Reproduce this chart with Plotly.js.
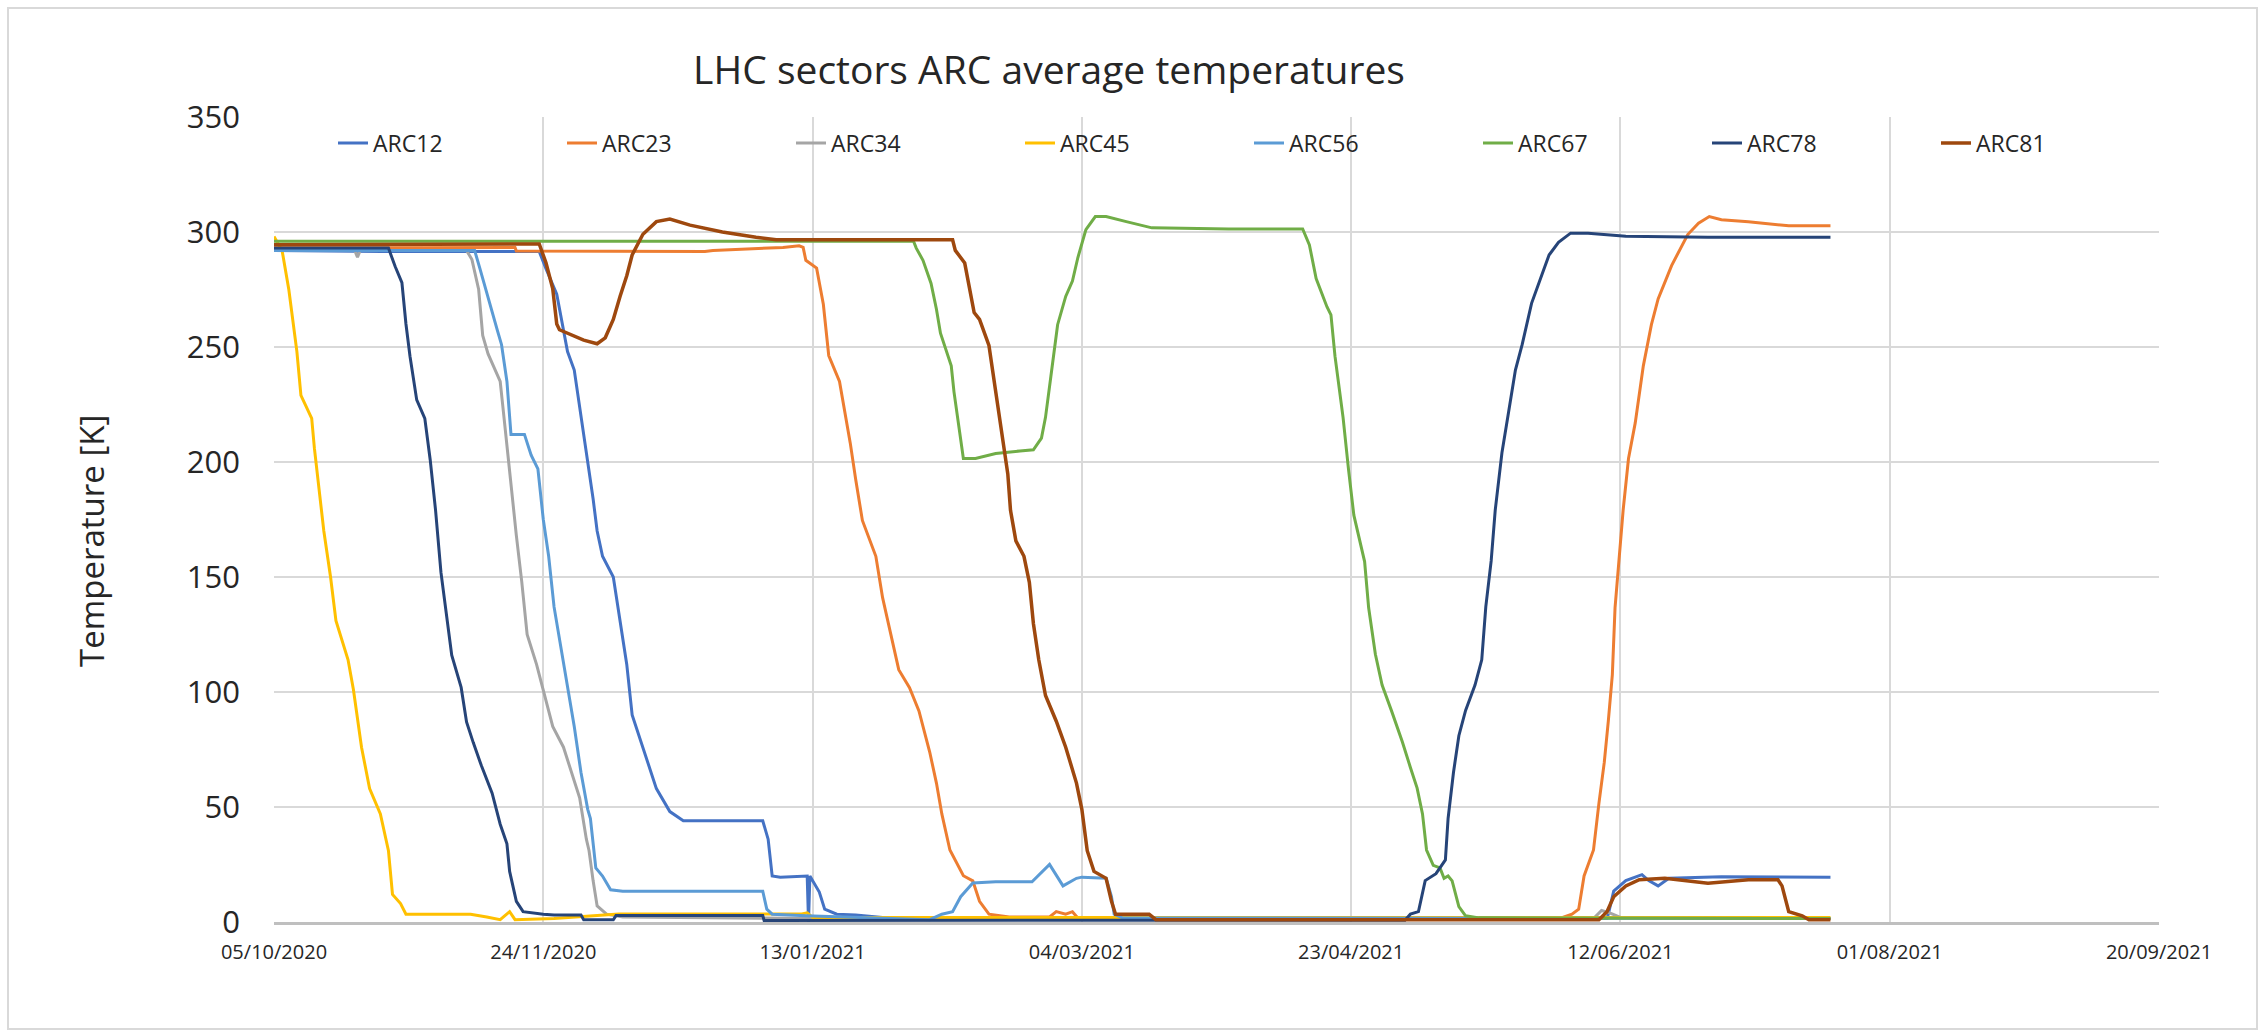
<!DOCTYPE html>
<html>
<head>
<meta charset="utf-8">
<script src="https://cdn.plot.ly/plotly-3.0.1.min.js"></script>
<style>
html,body{margin:0;padding:0;background:#fff;}
#chart{width:2267px;height:1036px;}
</style>
</head>
<body>
<div id="chart"></div>
<script>
// ---- Data ----
const seriesNames = ['ARC12','ARC23','ARC34','ARC45','ARC56','ARC67','ARC78','ARC81'];
const seriesColors = ['#4472C4','#ED7D31','#A5A5A5','#FFC000','#5B9BD5','#70AD47','#264478','#9E480E'];

const arc12_x = ['2020-10-05','2020-10-25','2020-11-23 06:00','2020-11-24 12:00','2020-11-26 12:00','2020-11-27 18:00','2020-11-28 12:00','2020-11-29 18:00','2020-11-30 18:00','2020-12-01 18:00','2020-12-02 12:00','2020-12-03 06:00','2020-12-04','2020-12-05','2020-12-07','2020-12-08 06:00','2020-12-09 12:00','2020-12-10 12:00','2020-12-12 12:00','2020-12-15','2020-12-17 12:00','2020-12-20','2020-12-27','2021-01-03 18:00','2021-01-04 18:00','2021-01-05 12:00','2021-01-07','2021-01-11 06:00','2021-01-12','2021-01-12 06:00','2021-01-12 12:00','2021-01-14 06:00','2021-01-15 06:00','2021-01-17 12:00','2021-01-21','2021-01-28','2021-03-04','2021-04-23','2021-06-09 12:00','2021-06-09 18:00','2021-06-10 18:00','2021-06-13','2021-06-16','2021-06-17 06:00','2021-06-19','2021-06-21','2021-06-30 18:00','2021-07-21'];
const arc12_y = [292,291.5,291.5,284,273,257,248,240,224,210,198,184,170,159,150,130,112,90,76,58,48,44,44,44,36,20,19.5,20,20,0,20,13,5.6,3.4,3,1.5,1.5,1.5,1.5,3.4,13.4,18,20.6,18,15.7,19,19.7,19.5];

const arc23_x = ['2020-10-05','2020-10-15 18:00','2020-11-18 18:00','2020-11-19','2020-12-02 12:00','2020-12-24','2020-12-25 12:00','2021-01-07 12:00','2021-01-10 12:00','2021-01-11 06:00','2021-01-11 18:00','2021-01-13','2021-01-13 18:00','2021-01-15','2021-01-16','2021-01-18','2021-01-19','2021-01-20','2021-01-21','2021-01-22 06:00','2021-01-24 18:00','2021-01-26','2021-01-27 12:00','2021-01-29','2021-01-31','2021-02-01 18:00','2021-02-03 18:00','2021-02-05','2021-02-06','2021-02-07 12:00','2021-02-10','2021-02-11 18:00','2021-02-13','2021-02-14 18:00','2021-02-18 12:00','2021-02-26','2021-02-27 06:00','2021-03-01','2021-03-02 06:00','2021-03-03 12:00','2021-04-23','2021-06-01','2021-06-03','2021-06-04 06:00','2021-06-05 06:00','2021-06-07','2021-06-08','2021-06-09','2021-06-09 18:00','2021-06-10 12:00','2021-06-11','2021-06-11 18:00','2021-06-12 12:00','2021-06-13 12:00','2021-06-14 18:00','2021-06-16 06:00','2021-06-17 18:00','2021-06-19','2021-06-21 12:00','2021-06-24 12:00','2021-06-26 12:00','2021-06-28 12:00','2021-06-30 18:00','2021-07-05 18:00','2021-07-13 06:00','2021-07-21'];
const arc23_y = [293,293,293.3,291.7,291.5,291.5,292,293.3,294,293.3,287.7,285.4,284.3,268.6,246.3,235,221.6,208.2,192.5,174.6,159,141,125.4,109.7,101.9,91.8,73.9,60.4,47,31.3,20.1,17.9,9,3.4,2.2,2.2,4.5,3.4,4.5,1.1,1.2,1.8,3.4,5.6,20,31.3,51.5,69.4,87.3,107.5,136.6,159,179,201.5,217,241.8,259.7,270.9,285.4,298.9,303.8,306.7,305.3,304.5,302.7,302.7];

const arc34_x = ['2020-10-05','2020-10-20','2020-10-20 12:00','2020-10-21','2020-11-09 18:00','2020-11-10 18:00','2020-11-12','2020-11-12 18:00','2020-11-13 18:00','2020-11-16','2020-11-16 12:00','2020-11-17 12:00','2020-11-18','2020-11-19','2020-11-20','2020-11-21','2020-11-22 18:00','2020-11-24','2020-11-25 18:00','2020-11-27 18:00','2020-11-29 06:00','2020-11-30 18:00','2020-12-02','2020-12-02 12:00','2020-12-03 06:00','2020-12-04','2020-12-05 18:00','2020-12-08 18:00','2021-01-13','2021-06-07','2021-06-08 12:00','2021-06-10','2021-06-12','2021-07-21'];
const arc34_y = [292,292,289,292,292,288,275,255,247,235,224,201,188,168,148,125,112,101,85,76,65,54,36,31,18,7,3.4,2.2,1.5,1.5,5,4,2,1.5];

const arc45_x = ['2020-10-05','2020-10-06 12:00','2020-10-07 18:00','2020-10-09 06:00','2020-10-10','2020-10-12','2020-10-12 12:00','2020-10-14 06:00','2020-10-15 12:00','2020-10-16 12:00','2020-10-18 18:00','2020-10-19 18:00','2020-10-21 06:00','2020-10-22 18:00','2020-10-24 18:00','2020-10-26 06:00','2020-10-27','2020-10-28 12:00','2020-10-29 12:00','2020-11-10 12:00','2020-11-13 12:00','2020-11-16','2020-11-17 18:00','2020-11-18 18:00','2020-11-26','2020-12-08','2021-01-11','2021-01-12','2021-01-13','2021-07-21'];
const arc45_y = [298,292,275,248,229,219,206,170,150,131,114,101,76,58,47,31,12,8,3.4,3.4,2.2,1,4.5,1,1.5,3.5,3.5,4,2,2];

const arc56_x = ['2020-10-05','2020-11-11 06:00','2020-11-12 06:00','2020-11-14','2020-11-15 12:00','2020-11-16 06:00','2020-11-17 06:00','2020-11-18','2020-11-20 12:00','2020-11-21 18:00','2020-11-23','2020-11-24','2020-11-25','2020-11-26','2020-11-27 12:00','2020-11-28 12:00','2020-11-29 18:00','2020-12-01','2020-12-02 06:00','2020-12-02 18:00','2020-12-03 06:00','2020-12-03 18:00','2020-12-05','2020-12-06 12:00','2020-12-08 18:00','2021-01-03 18:00','2021-01-04 12:00','2021-01-05 12:00','2021-01-11 18:00','2021-01-23','2021-02-03 18:00','2021-02-06','2021-02-08','2021-02-09 12:00','2021-02-11 18:00','2021-02-16','2021-02-22 18:00','2021-02-26','2021-02-28 12:00','2021-03-03','2021-03-04','2021-03-08 12:00','2021-03-09 12:00','2021-03-10','2021-03-11 12:00','2021-07-21'];
const arc56_y = [292,292,284,269,257,251,235,212,212,203,197,175,159,137,116,101,85,65,49,45,34,23.5,20,14,13.4,13.4,5.6,3.4,2.7,2,1,3.4,4.5,11,17,17.5,17.5,25,15.7,19,19.5,19,11,3.4,1.8,1.5];

const arc67_x = ['2020-10-05','2021-01-31 18:00','2021-02-01 06:00','2021-02-02 12:00','2021-02-04','2021-02-05','2021-02-05 18:00','2021-02-07 18:00','2021-02-08 06:00','2021-02-09 06:00','2021-02-10','2021-02-12 06:00','2021-02-16','2021-02-20 12:00','2021-02-23','2021-02-24 12:00','2021-02-25 06:00','2021-02-26 06:00','2021-02-27 12:00','2021-03-01','2021-03-02 06:00','2021-03-03 06:00','2021-03-04 18:00','2021-03-06 12:00','2021-03-08 12:00','2021-03-12 06:00','2021-03-17','2021-03-31 06:00','2021-04-14','2021-04-15 06:00','2021-04-16 12:00','2021-04-18 12:00','2021-04-19 06:00','2021-04-20','2021-04-21 12:00','2021-04-22 12:00','2021-04-23 12:00','2021-04-25 12:00','2021-04-26 06:00','2021-04-27 12:00','2021-04-28 18:00','2021-04-30 12:00','2021-05-02 12:00','2021-05-04','2021-05-05 06:00','2021-05-06 06:00','2021-05-07','2021-05-08 06:00','2021-05-09 12:00','2021-05-10 06:00','2021-05-11','2021-05-11 18:00','2021-05-13','2021-05-14 06:00','2021-05-16 18:00','2021-07-21'];
const arc67_y = [296,296,293,287.7,277.6,266.4,256,241.8,230.6,215,201.5,201.5,203.7,204.8,205.3,210.4,219.4,237.3,259.7,272,278.7,288.8,301,306.7,306.7,304.5,301.8,301.3,301.3,294.4,279.8,267.5,264,246,219.4,197,176.9,156.7,136.6,116.4,103,91.8,78.4,67.2,58.2,47,31.3,24.6,23.5,19,20,17.9,6.7,2.7,1.8,1.5];

const arc78_x = ['2020-10-05','2020-10-26 06:00','2020-10-27 12:00','2020-10-28 18:00','2020-10-29 12:00','2020-10-30 06:00','2020-10-31 12:00','2020-11-02','2020-11-03','2020-11-04','2020-11-05','2020-11-06','2020-11-07','2020-11-08 18:00','2020-11-09 18:00','2020-11-11','2020-11-12 12:00','2020-11-14 12:00','2020-11-16','2020-11-17 06:00','2020-11-17 18:00','2020-11-19','2020-11-20 06:00','2020-11-24','2020-11-26','2020-12-01','2020-12-01 12:00','2020-12-07','2020-12-07 12:00','2021-01-03 18:00','2021-01-04','2021-05-03','2021-05-04','2021-05-05 12:00','2021-05-06 18:00','2021-05-08 18:00','2021-05-10 12:00','2021-05-11','2021-05-12','2021-05-13','2021-05-14 06:00','2021-05-16','2021-05-17 06:00','2021-05-18','2021-05-19','2021-05-19 18:00','2021-05-21','2021-05-22 06:00','2021-05-23 12:00','2021-05-24 18:00','2021-05-26 12:00','2021-05-28 12:00','2021-05-29 18:00','2021-05-31 12:00','2021-06-02 18:00','2021-06-06','2021-06-13','2021-06-28 06:00','2021-07-21'];
const arc78_y = [293,293,285,278,260,246,227,219,201,179,152,134,116,102,87,78,68,56,42.5,34,22,9,4.5,3.4,3,3,1,1,2.8,2.8,0.7,0.8,3.4,4.5,18,21,27,45,65,81,92,103,114,137,157,179,204,222,240,251,269,282,290,295.5,299.5,299.5,298.2,297.7,297.7];

const arc81_x = ['2020-10-05','2020-11-23','2020-11-23 06:00','2020-11-24 12:00','2020-11-25 18:00','2020-11-26 12:00','2020-11-27','2020-12-01 12:00','2020-12-02 12:00','2020-12-04','2020-12-05 12:00','2020-12-07','2020-12-08 06:00','2020-12-09 12:00','2020-12-10 12:00','2020-12-12 12:00','2020-12-15','2020-12-17 12:00','2020-12-21 06:00','2020-12-27 06:00','2021-01-02 12:00','2021-01-06 06:00','2021-02-08','2021-02-08 12:00','2021-02-10 06:00','2021-02-11','2021-02-12','2021-02-13','2021-02-14 18:00','2021-02-16','2021-02-17 06:00','2021-02-18 06:00','2021-02-18 18:00','2021-02-19 18:00','2021-02-21 06:00','2021-02-22 06:00','2021-02-23','2021-02-24','2021-02-25 06:00','2021-02-27 06:00','2021-03-01','2021-03-03','2021-03-04','2021-03-05','2021-03-06 06:00','2021-03-07 18:00','2021-03-08 12:00','2021-03-09 12:00','2021-03-10 06:00','2021-03-16 12:00','2021-03-17 18:00','2021-06-08','2021-06-09 12:00','2021-06-10 18:00','2021-06-13','2021-06-15 12:00','2021-06-20 06:00','2021-06-28 06:00','2021-07-05 18:00','2021-07-11 06:00','2021-07-12','2021-07-13 06:00','2021-07-15 18:00','2021-07-17','2021-07-21'];
const arc81_y = [294.5,295,294.8,286.6,275.4,260,257.5,253,252.5,251.4,254,262,272,281,290,299,304.5,305.6,303,300,297.7,296.6,296.6,292,286.5,277.6,265,262,250.7,230.6,210.4,194.8,179,165.7,159,147.7,129.8,114,98.5,87.3,76,60.4,49,31,22,20,19,9,3.4,3.4,1,1,4.5,11,15.7,18.4,19,16.8,18.4,18.4,15.7,4.5,2.7,1,1];

const xTickStart = '2020-10-05';
const xRange = ['2020-10-05', '2021-09-20'];
const yRange = [0, 350];
const titleText = 'LHC sectors ARC average temperatures';
const yTitleText = 'Temperature [K]';

// ---- Build traces ----
const xs = [arc12_x, arc23_x, arc34_x, arc45_x, arc56_x, arc67_x, arc78_x, arc81_x];
const ys = [arc12_y, arc23_y, arc34_y, arc45_y, arc56_y, arc67_y, arc78_y, arc81_y];
const traces = seriesNames.map((name, i) => ({
  type: 'scatter',
  mode: 'lines',
  name: name,
  x: xs[i],
  y: ys[i],
  line: {color: seriesColors[i], width: i === 7 ? 3.5 : 3},
  hoverinfo: 'x+y+name'
}));

const FONT = '"Open Sans", "Noto Sans", sans-serif';
const textColor = '#262626';
const plotL = 274, plotR = 2159, plotT = 117, plotB = 922;
const W = 2267, H = 1036;
const pw = plotR - plotL, ph = plotB - plotT;

const layout = {
  width: W, height: H,
  paper_bgcolor: '#ffffff',
  plot_bgcolor: '#ffffff',
  margin: {l: plotL, r: W - plotR, t: plotT, b: H - plotB, pad: 0},
  showlegend: true,
  title: {
    text: titleText,
    font: {family: FONT, size: 39, color: textColor},
    xref: 'container', yref: 'container',
    x: 1049 / W, xanchor: 'center',
    y: 1 - 70 / H, yanchor: 'middle'
  },
  xaxis: {
    type: 'date',
    range: xRange,
    tick0: xTickStart,
    dtick: 50 * 86400000,
    tickformat: '%d/%m/%Y',
    showgrid: true,
    gridcolor: '#D9D9D9',
    gridwidth: 2,
    showline: true,
    linecolor: '#BFBFBF',
    linewidth: 3,
    ticks: '',
    ticklabelstandoff: 10,
    zeroline: false,
    tickfont: {family: FONT, size: 20, color: textColor}
  },
  yaxis: {
    range: yRange,
    dtick: 50,
    showgrid: true,
    gridcolor: '#D9D9D9',
    gridwidth: 2,
    zeroline: false,
    showline: false,
    ticks: '',
    ticklabelstandoff: 33,
    tickfont: {family: FONT, size: 31, color: textColor}
  },
  legend: {
    orientation: 'h',
    x: (333 - plotL) / pw, xanchor: 'left',
    y: (plotB - 143) / ph, yanchor: 'middle',
    bgcolor: 'rgba(0,0,0,0)',
    borderwidth: 0,
    entrywidth: 184,
    entrywidthmode: 'pixels',
    font: {family: FONT, size: 23, color: textColor},
    traceorder: 'normal'
  },
  annotations: [{
    text: yTitleText,
    xref: 'paper', yref: 'paper',
    x: (91 - plotL) / pw, y: (plotB - 541) / ph,
    xanchor: 'center', yanchor: 'middle',
    textangle: -90,
    showarrow: false,
    font: {family: FONT, size: 33, color: textColor}
  }],
  shapes: [{
    type: 'rect',
    xref: 'paper', yref: 'paper',
    x0: (8 - plotL) / pw, x1: (2257 - plotL) / pw,
    y0: (plotB - 1029) / ph, y1: (plotB - 8) / ph,
    line: {color: '#D9D9D9', width: 2},
    fillcolor: 'rgba(0,0,0,0)',
    layer: 'below'
  }]
};

Plotly.newPlot('chart', traces, layout, {displayModeBar: false, responsive: false});
</script>
</body>
</html>
